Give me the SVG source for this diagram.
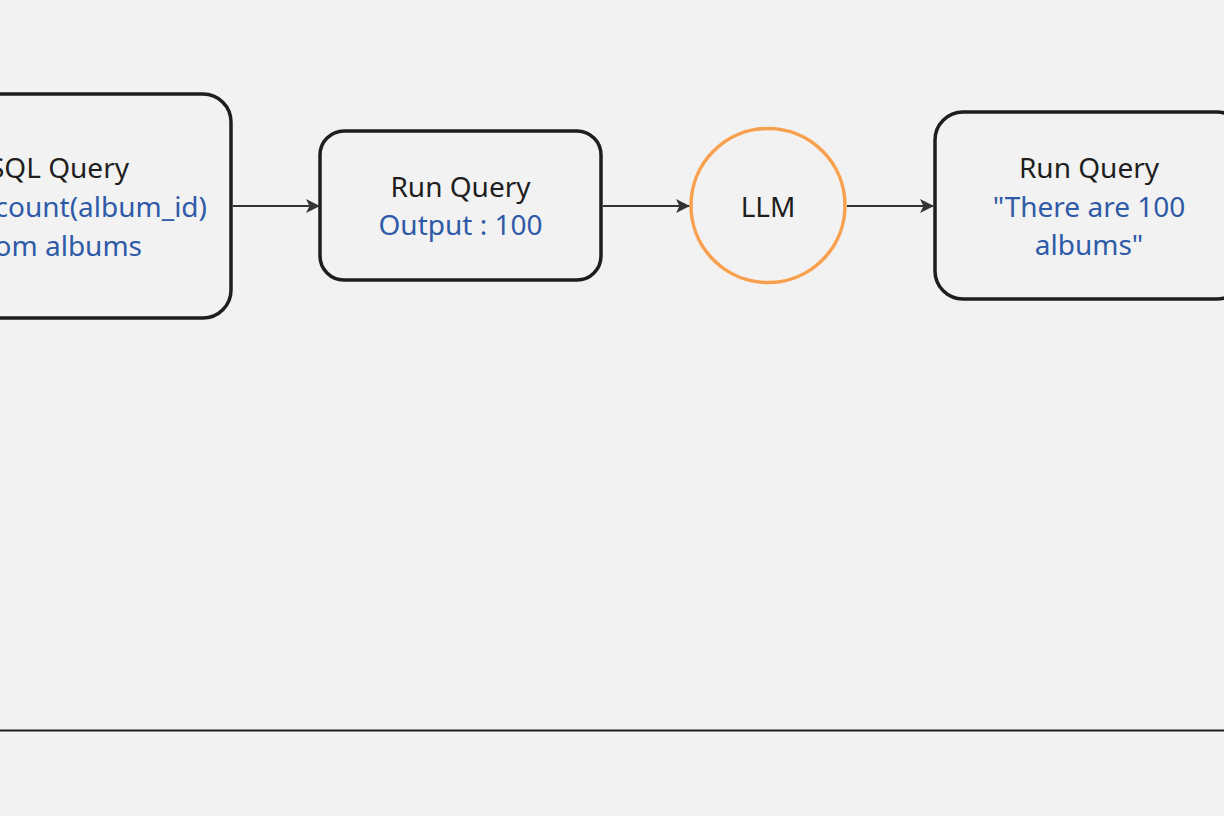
<svg xmlns="http://www.w3.org/2000/svg" width="1224" height="816" viewBox="0 0 1224 816">
<defs>
<marker id="arr" viewBox="0 0 14 14" refX="13" refY="7" markerWidth="14" markerHeight="14" markerUnits="userSpaceOnUse" orient="auto">
<path d="M0,0 L14,7 L0,14 L3.5,7 Z" fill="#333333"/>
</marker>
</defs>
<style>
.box{fill:#f2f2f2;stroke:#1e1e1e;stroke-width:3.5}
.t{font-family:"Noto Sans","Open Sans","Liberation Sans",sans-serif;font-size:28px;fill:#1e1e1e}
.b{fill:#2f5aa8}
.c{stroke:#333333;stroke-width:2;fill:none}
</style>
<rect width="1224" height="816" fill="#f2f2f2"/>
<g id="sql-query">
<rect class="box" x="-80" y="94" width="311" height="224" rx="28"/>
<text class="t" x="129" y="178" text-anchor="end">SQL Query</text>
<text class="t b" x="207" y="217" text-anchor="end">count(album_id)</text>
<text class="t b" x="142" y="256" text-anchor="end">om albums</text>
</g>
<g id="run-query-1">
<rect class="box" x="320" y="131" width="281" height="149" rx="24"/>
<text class="t" x="460.5" y="197" text-anchor="middle">Run Query</text>
<text class="t b" x="460.5" y="235" text-anchor="middle">Output : 100</text>
</g>
<g id="llm">
<circle cx="768" cy="205.5" r="77" fill="#f2f2f2" stroke="#f8a04e" stroke-width="3.5"/>
<text class="t" x="768" y="217" text-anchor="middle">LLM</text>
</g>
<g id="run-query-2">
<rect class="box" x="935" y="112" width="310" height="187" rx="28"/>
<text class="t" x="1089" y="178" text-anchor="middle">Run Query</text>
<text class="t b" x="1089" y="217" text-anchor="middle">"There are 100</text>
<text class="t b" x="1089" y="255" text-anchor="middle">albums"</text>
</g>
<g id="connectors">
<line class="c" x1="233" y1="206" x2="319" y2="206" marker-end="url(#arr)"/>
<line class="c" x1="603" y1="206" x2="689" y2="206" marker-end="url(#arr)"/>
<line class="c" x1="847" y1="206" x2="933" y2="206" marker-end="url(#arr)"/>
<line x1="0" y1="730.5" x2="1224" y2="730.5" stroke="#1e1e1e" stroke-width="2"/>
</g>
</svg>
